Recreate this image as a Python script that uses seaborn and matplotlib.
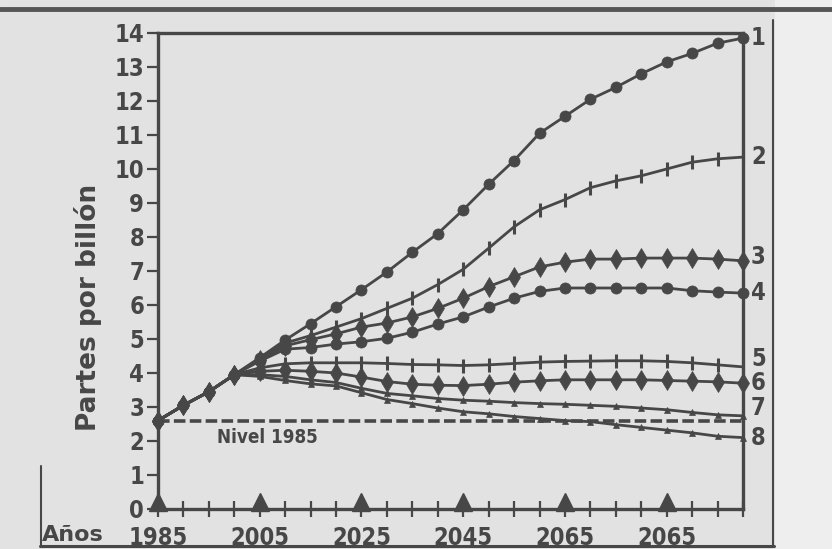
import matplotlib
matplotlib.use("Agg")
import matplotlib.pyplot as plt
import seaborn as sns
from matplotlib.lines import Line2D
from matplotlib.patches import Rectangle

# Data (partes por billón, 1985-2100 every 5 years)
years = list(range(1985, 2101, 5))
start = [2.6, 3.05, 3.45, 3.95]
serie_1 = start + [4.45, 4.97, 5.45, 5.95, 6.45, 6.97, 7.55, 8.1, 8.8, 9.55,
                   10.25, 11.05, 11.55, 12.05, 12.4, 12.8, 13.15, 13.4, 13.7, 13.85]
serie_2 = start + [4.42, 4.88, 5.1, 5.35, 5.6, 5.9, 6.2, 6.6, 7.05, 7.67,
                   8.3, 8.8, 9.1, 9.45, 9.65, 9.8, 10.0, 10.2, 10.3, 10.35]
serie_3 = start + [4.38, 4.8, 4.98, 5.15, 5.35, 5.47, 5.65, 5.9, 6.2, 6.54,
                   6.83, 7.12, 7.26, 7.35, 7.35, 7.38, 7.38, 7.38, 7.35, 7.3]
serie_4 = start + [4.35, 4.7, 4.75, 4.85, 4.92, 5.02, 5.2, 5.44, 5.65, 5.94,
                   6.2, 6.4, 6.5, 6.5, 6.5, 6.5, 6.5, 6.42, 6.38, 6.35]
serie_5 = start + [4.15, 4.27, 4.3, 4.3, 4.3, 4.28, 4.25, 4.24, 4.22, 4.24,
                   4.28, 4.32, 4.34, 4.35, 4.36, 4.36, 4.34, 4.3, 4.24, 4.18]
serie_6 = start + [4.05, 4.08, 4.05, 4.0, 3.88, 3.75, 3.67, 3.64, 3.63, 3.67,
                   3.73, 3.77, 3.8, 3.8, 3.8, 3.8, 3.78, 3.76, 3.74, 3.7]
serie_7 = start + [3.95, 3.9, 3.8, 3.72, 3.55, 3.4, 3.33, 3.25, 3.2, 3.17,
                   3.13, 3.1, 3.08, 3.05, 3.02, 2.97, 2.92, 2.84, 2.77, 2.74]
serie_8 = start + [3.9, 3.78, 3.68, 3.62, 3.42, 3.22, 3.1, 2.97, 2.86, 2.8,
                   2.72, 2.66, 2.6, 2.57, 2.48, 2.4, 2.32, 2.24, 2.14, 2.1]

series = [serie_1, serie_2, serie_3, serie_4, serie_5, serie_6, serie_7, serie_8]
series_names = ["1", "2", "3", "4", "5", "6", "7", "8"]
label_y = [13.85, 10.35, 7.4, 6.35, 4.4, 3.72, 2.97, 2.1]

nivel_1985 = 2.6
triangle_years = [1985, 2005, 2025, 2045, 2065, 2085]
xtick_labels = ["1985", "2005", "2025", "2045", "2065", "2065"]
yticks = list(range(0, 15))

# marker style per series: (marker, size, edge width)
styles = {
    "1": ("o", 8, 0.5),
    "2": ("|", 10, 2.2),
    "3": ("d", 10, 0.5),
    "4": ("o", 8, 0.5),
    "5": ("|", 10, 2.2),
    "6": ("d", 10, 0.5),
    "7": ("^", 5, 0.5),
    "8": ("^", 5, 0.5),
}

ink = "#474747"
paper = "#e2e2e2"

sns.set_theme(style="white")
plt.rcParams["font.family"] = ["DejaVu Sans"]
cond = dict(family="DejaVu Sans", fontstretch="condensed", fontweight="heavy")

fig = plt.figure(figsize=(8.32, 5.49), dpi=100, facecolor=paper)
# lighter strip at the right, outside the framed box
fig.patches.append(Rectangle((775 / 832, 0), 1 - 775 / 832, 1, transform=fig.transFigure,
                             facecolor="#eeeeee", edgecolor="none", zorder=0))

ax = fig.add_axes([158 / 832, 1 - 509 / 549, (743 - 158) / 832, (509 - 33) / 549])
ax.set_facecolor("none")

# dashed "Nivel 1985" line
ax.axhline(nivel_1985, color=ink, lw=2.6, ls=(0, (3.2, 1.2)), zorder=2)
ax.text(1996.6, 2.1, "Nivel 1985", fontsize=13.5, color=ink, va="center", ha="left", **cond)

for name, vals in reversed(list(zip(series_names, series))):
    mk, ms, mew = styles[name]
    sns.lineplot(x=years, y=vals, ax=ax, color=ink, lw=2.0, marker=mk, markersize=ms,
                 markeredgewidth=mew, markeredgecolor=ink, markerfacecolor=ink, zorder=3,
                 clip_on=False)

# series numbers at the right
for name, yv in zip(series_names, label_y):
    ax.text(years[-1] + 3.0, yv, name, fontsize=17, color=ink, va="center", ha="center",
            clip_on=False, **cond)

# big triangles sitting on the x axis
ax.plot(triangle_years, [0.2] * len(triangle_years), ls="none", marker="^", markersize=13,
        color=ink, clip_on=False, zorder=4)

ax.set_xlim(years[0], years[-1])
ax.set_ylim(0, 14)
ax.set_xticks(years)
ax.set_xticklabels([])
ax.set_yticks(yticks)
ax.set_yticklabels([str(v) for v in yticks], fontsize=17, color=ink, **cond)
ax.tick_params(axis="x", direction="inout", length=11, width=1.6, color=ink, bottom=True)
ax.tick_params(axis="y", direction="out", length=8, width=1.6, color=ink, left=True, pad=2)

for lab, yr in zip(xtick_labels, triangle_years):
    ax.text(yr, -0.85, lab, fontsize=17, color=ink, ha="center", va="center",
            clip_on=False, **cond)

for sp in ax.spines.values():
    sp.set_visible(True)
    sp.set_color(ink)
    sp.set_linewidth(2.4)

ax.set_ylabel("")
ax.set_xlabel("")
fig.text(88 / 832, 1 - 307 / 549, "Partes por billón", rotation=90, fontsize=19,
         fontweight="heavy", color=ink, ha="center", va="center")
fig.text(73 / 832, 1 - 535 / 549, "Años", fontsize=16, fontweight="heavy", color=ink,
         ha="center", va="center")

# frame rules of the printed figure
fig.lines.append(Line2D([0, 1], [1 - 9 / 549] * 2, transform=fig.transFigure,
                        color="#555555", lw=3.5))
fig.lines.append(Line2D([40 / 832, 774 / 832], [1 - 546 / 549] * 2, transform=fig.transFigure,
                        color=ink, lw=2.2))
fig.lines.append(Line2D([41 / 832] * 2, [1 - 546 / 549, 1 - 466 / 549], transform=fig.transFigure,
                        color=ink, lw=1.5))
fig.lines.append(Line2D([773 / 832] * 2, [1 - 546 / 549, 1 - 20 / 549], transform=fig.transFigure,
                        color=ink, lw=1.5))

fig.savefig("out.png", dpi=100, facecolor=paper)
